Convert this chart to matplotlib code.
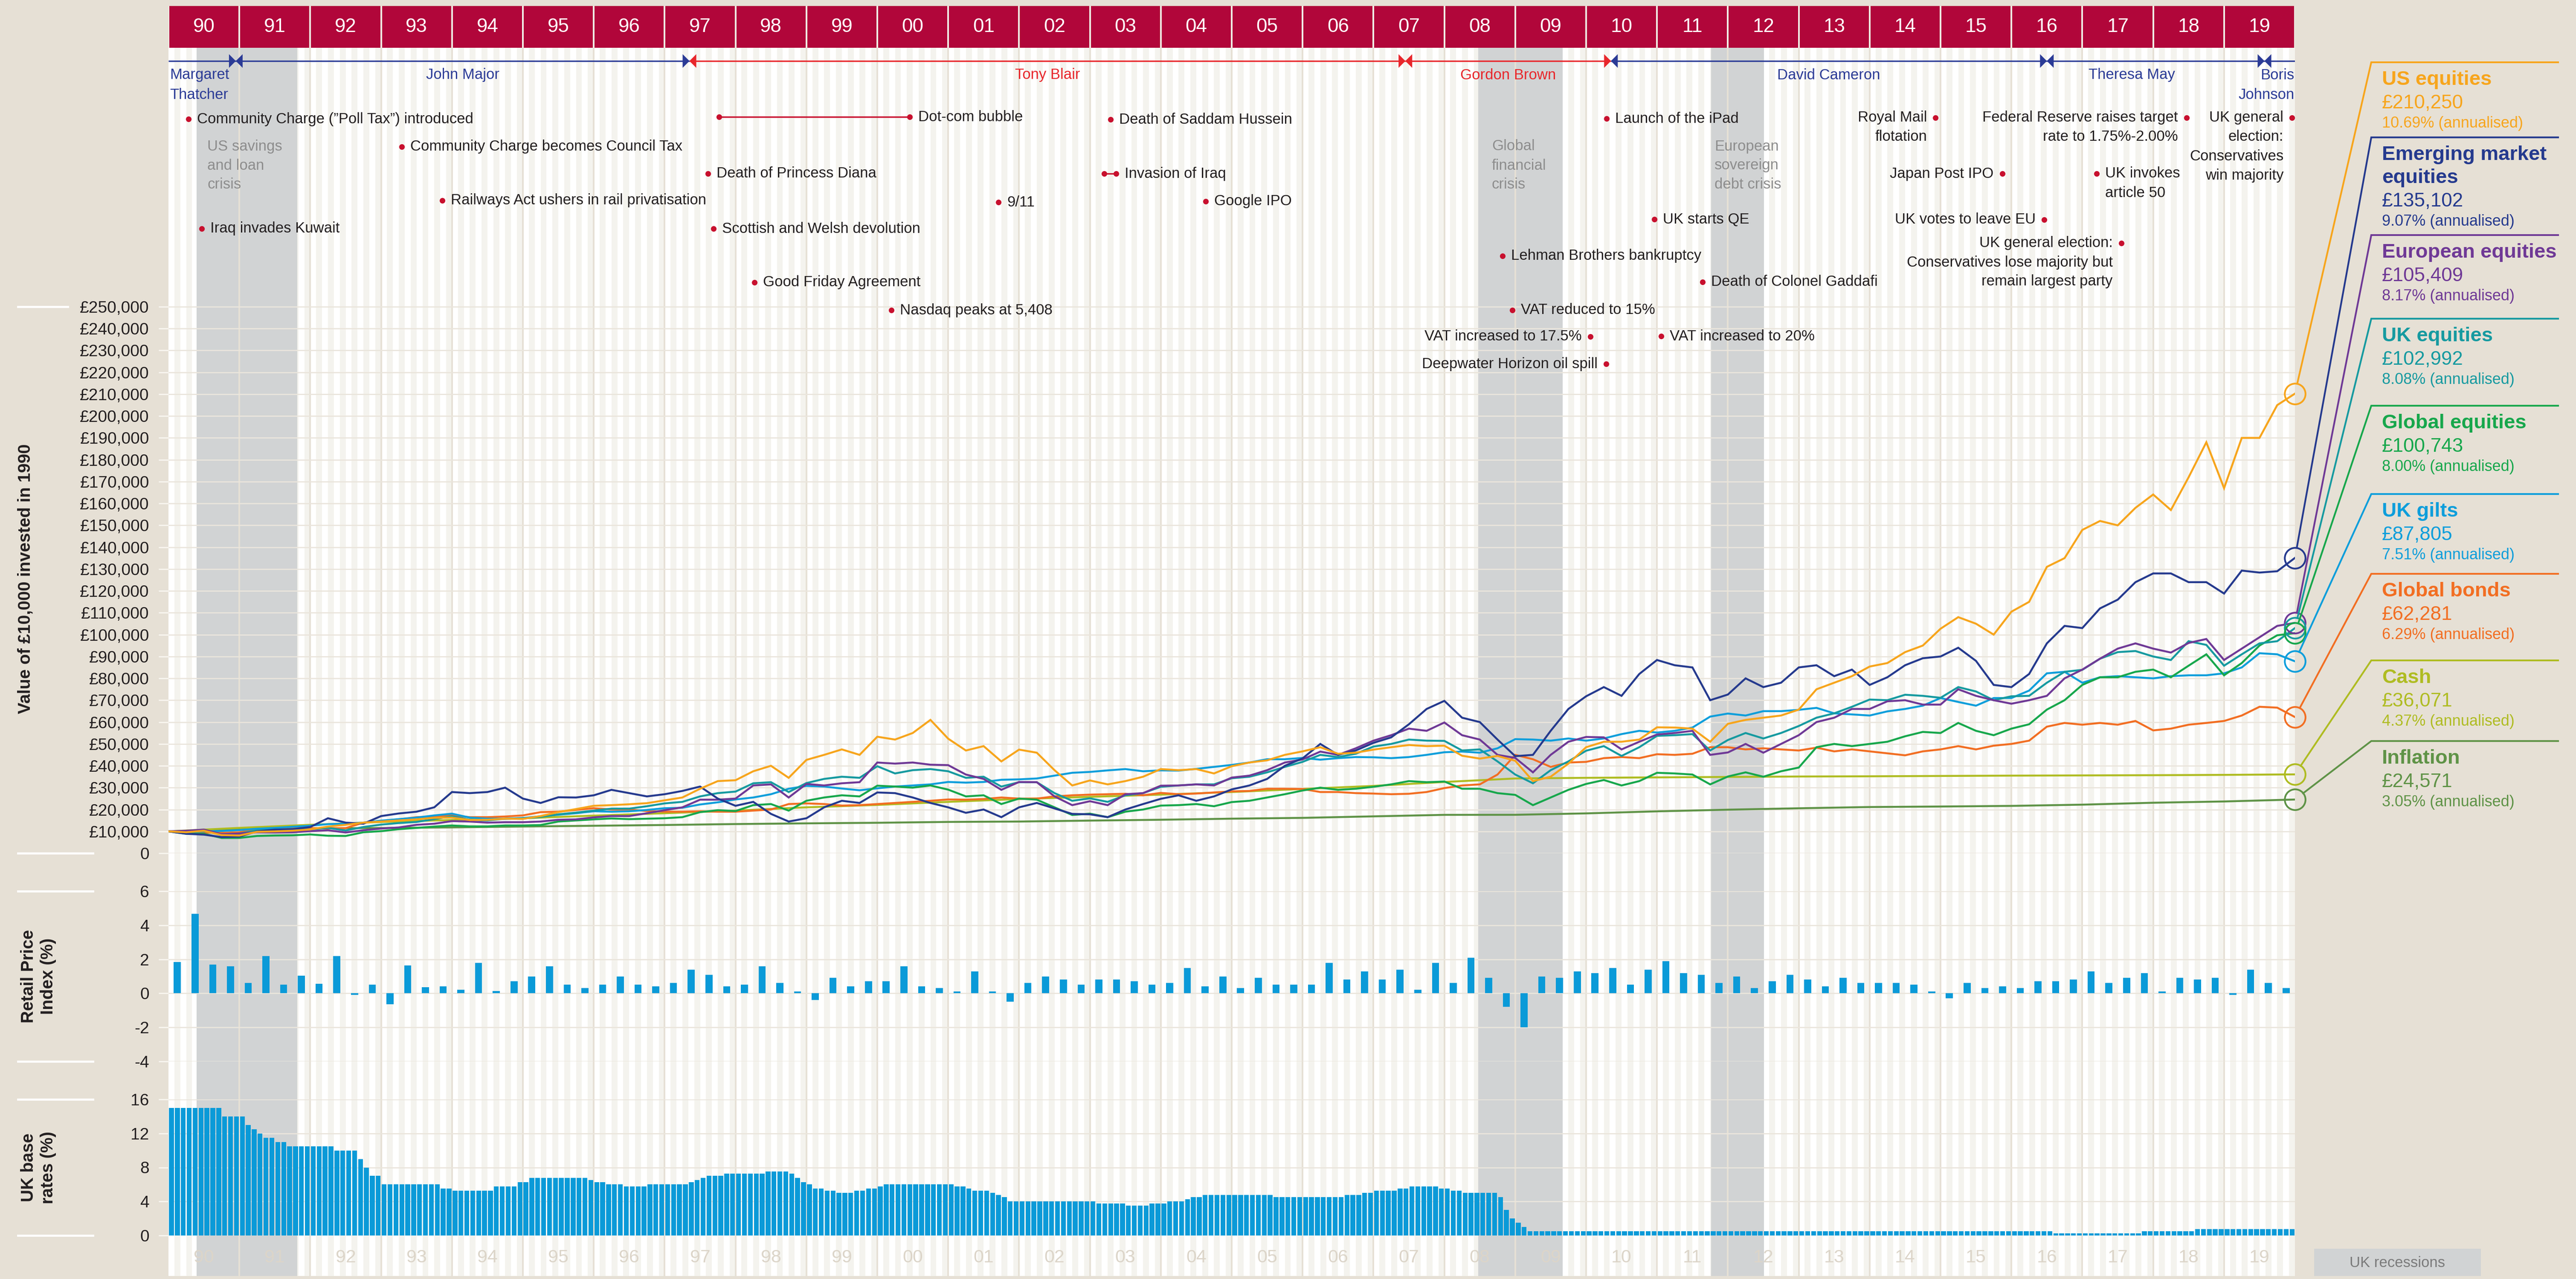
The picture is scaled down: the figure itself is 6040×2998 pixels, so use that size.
import numpy as np
import matplotlib
matplotlib.use("Agg")
import matplotlib.pyplot as plt
from matplotlib.patches import Rectangle, Polygon

plt.rcParams['font.family'] = ['Liberation Sans', 'DejaVu Sans']
plt.rcParams['axes.unicode_minus'] = False

# ---------------- data ----------------
years = list(range(1990, 2020))
year_labels = ["%02d" % (y % 100) for y in years]

quarter_x = 1990 + np.arange(121) * 0.25     # start of each quarter, 1990.0 .. 2020.0
annual_x = 1990 + np.arange(31)
month_x = 1990 + np.arange(360) / 12
rpi_x = 1990.125 + np.arange(120) * 0.25

# value of £10,000 (in £000s), quarterly
us_equities = [
    10.0, 9.6, 10.3, 8.3,  8.1, 9.8, 10.0, 10.3,  10.9, 12.2, 13.0, 14.0,  14.5, 15.0, 15.5, 16.2,
    16.3, 15.2, 15.3, 15.8,  15.7, 17.0, 18.8, 20.2,  21.7, 22.0, 22.4, 22.9,  24.2, 25.5, 29.5, 33.0,
    33.4, 37.5, 40.0, 34.5,  42.7, 45.0, 47.5, 45.0,  53.3, 52.0, 55.0, 61.0,  52.4, 47.0, 49.0, 42.0,
    47.4, 46.0, 38.0, 31.0,  33.3, 31.5, 33.0, 35.0,  38.5, 38.0, 38.5, 36.5,  39.8, 41.5, 42.5, 45.0,
    46.6, 48.5, 45.5, 46.0,  47.4, 48.5, 49.5, 49.0,  49.2, 44.6, 43.3, 44.5,  42.3, 33.0, 35.0, 41.0,
    48.5, 51.0, 51.0, 52.0,  57.6, 57.5, 57.0, 51.0,  59.2, 61.0, 62.0, 63.0,  65.7, 75.0, 78.0, 81.0,
    85.4, 87.0, 92.0, 95.0,  102.7, 108.0, 105.0, 100.0,  110.5, 115.0, 131.0, 135.0,  147.9, 152.0, 150.0, 158.0,
    164.1, 157.0, 172.0, 188.0,  167.0, 190.0, 190.0, 205.0,  210.25]
em_equities = [
    10.0, 8.9, 8.5, 7.4,  7.6, 10.0, 10.8, 11.0,  12.0, 16.0, 14.0, 13.5,  17.0, 18.2, 19.0, 21.0,
    28.0, 27.5, 28.0, 30.0,  25.0, 23.0, 25.6, 25.5,  26.5, 29.0, 27.5, 26.0,  27.0, 28.5, 30.5, 25.0,
    21.7, 23.5, 18.0, 14.5,  16.0, 21.0, 24.0, 23.0,  27.8, 27.5, 25.5, 23.0,  21.0, 18.5, 20.0, 16.5,
    21.0, 23.0, 20.5, 18.0,  17.8, 16.5, 20.0, 22.5,  24.9, 26.5, 24.0, 26.0,  29.2, 31.0, 34.0, 40.0,
    43.4, 50.0, 45.0, 47.0,  50.5, 53.0, 59.0, 66.0,  69.7, 62.0, 60.0, 52.0,  44.4, 45.0, 56.0, 66.0,
    71.8, 76.0, 72.0, 82.0,  88.4, 86.0, 85.0, 70.0,  72.6, 80.0, 76.0, 78.0,  85.0, 86.0, 81.0, 84.0,
    77.0, 80.5, 86.0, 89.2,  90.0, 94.0, 88.0, 77.0,  76.0, 82.0, 96.0, 104.0,  103.0, 112.0, 116.0, 124.0,
    128.0, 128.0, 124.0, 124.0,  118.8, 129.3, 128.4, 129.0,  135.1]
eu_equities = [
    10.0, 10.3, 10.8, 8.7,  9.0, 9.6, 9.5, 9.6,  10.1, 10.5, 9.5, 10.5,  11.3, 11.8, 13.0, 13.5,
    14.7, 14.5, 14.0, 14.2,  14.2, 14.5, 15.3, 15.5,  16.4, 17.0, 17.0, 18.3,  19.7, 21.0, 24.5, 24.5,
    25.0, 31.0, 31.5, 25.5,  31.7, 31.0, 32.0, 32.5,  41.5, 41.0, 41.5, 40.5,  40.3, 36.0, 34.0, 29.0,
    32.6, 32.5, 26.0, 22.0,  23.8, 22.0, 27.0, 27.5,  30.9, 31.0, 31.5, 31.0,  34.6, 35.5, 38.0, 41.5,
    42.9, 46.5, 45.0, 48.0,  51.5, 54.0, 57.0, 56.0,  59.8, 54.0, 52.0, 45.0,  43.6, 37.0, 45.0, 51.0,
    53.2, 53.0, 47.5, 51.0,  54.3, 55.0, 56.0, 45.0,  46.1, 50.0, 46.0, 50.0,  54.0, 60.0, 62.0, 66.0,
    66.0, 69.5, 70.0, 68.0,  68.0, 75.0, 72.0, 70.0,  68.4, 70.0, 72.0, 80.0,  84.0, 89.0, 93.6, 96.0,
    93.6, 91.8, 96.2, 98.0,  88.4, 93.6, 98.8, 104.0,  105.4]
uk_equities = [
    10.0, 9.6, 10.2, 8.6,  9.0, 10.4, 10.8, 11.0,  10.9, 11.6, 10.4, 12.0,  13.1, 13.8, 14.3, 15.6,
    16.9, 15.3, 15.0, 15.8,  15.9, 16.6, 17.8, 18.6,  19.5, 20.4, 20.4, 21.5,  22.8, 23.5, 26.0, 27.5,
    28.2, 32.0, 32.5, 28.0,  32.1, 34.0, 35.0, 34.5,  39.8, 36.5, 38.0, 38.5,  37.5, 34.5, 35.0, 30.5,
    32.5, 32.5, 27.5, 24.0,  25.1, 23.5, 26.5, 27.5,  30.4, 31.0, 31.5, 31.5,  34.3, 35.0, 37.0, 39.5,
    41.8, 45.0, 44.0, 45.5,  48.8, 50.0, 52.0, 51.5,  51.4, 47.0, 47.5, 42.0,  36.0, 32.0, 38.0, 42.0,
    46.9, 49.0, 44.5, 48.5,  53.7, 54.0, 54.5, 47.0,  51.8, 55.0, 52.5, 55.0,  58.2, 62.0, 64.0, 67.0,
    70.3, 70.0, 72.5, 72.0,  71.1, 76.0, 74.0, 70.0,  71.8, 72.0, 78.0, 83.0,  83.9, 89.0, 92.0, 92.5,
    90.0, 88.4, 97.0, 95.3,  85.8, 91.0, 96.0, 97.0,  103.0]
global_equities = [
    10.0, 8.9, 8.9, 7.0,  7.0, 7.9, 8.1, 8.2,  8.6, 8.0, 7.9, 9.6,  10.1, 11.0, 11.6, 12.2,
    12.7, 12.3, 12.3, 12.7,  12.7, 12.9, 14.5, 15.0,  15.5, 15.9, 15.6, 15.8,  16.0, 16.5, 18.8, 19.7,
    19.3, 22.0, 22.5, 19.5,  24.0, 25.5, 26.5, 26.0,  30.9, 30.5, 30.0, 31.0,  29.1, 26.0, 26.5, 22.5,
    25.0, 24.5, 21.0, 17.5,  18.1, 16.5, 19.0, 20.0,  21.8, 22.0, 22.5, 21.5,  23.4, 24.0, 25.5, 27.0,
    28.7, 30.0, 29.0, 29.5,  30.4, 31.5, 33.0, 32.5,  32.8, 29.5, 29.5, 27.5,  26.7, 22.0, 25.5, 29.0,
    31.7, 33.5, 31.0, 33.0,  36.8, 36.5, 36.0, 31.5,  35.1, 37.0, 35.0, 37.5,  39.2, 48.5, 50.0, 49.0,
    50.0, 51.0, 53.5, 55.5,  55.0, 59.6, 56.0, 54.0,  57.0, 59.0, 65.7, 70.0,  77.0, 80.5, 80.5, 83.0,
    84.0, 80.5, 85.8, 91.0,  81.4, 87.0, 95.0, 99.7,  100.7]
uk_gilts = [
    10.0, 9.6, 10.0, 10.2,  10.6, 11.2, 11.6, 12.1,  12.6, 13.3, 13.5, 14.0,  14.9, 15.6, 16.3, 17.3,
    18.1, 16.3, 15.8, 15.8,  16.1, 16.9, 17.6, 18.3,  19.2, 19.0, 19.2, 19.8,  20.6, 20.8, 22.3, 23.3,
    24.6, 25.5, 27.0, 29.5,  30.8, 30.5, 29.6, 28.8,  29.7, 30.5, 31.0, 31.5,  32.6, 32.3, 32.6, 33.6,
    33.8, 34.2, 35.5, 36.8,  37.2, 37.9, 38.5, 37.5,  37.9, 37.8, 38.6, 39.5,  40.4, 41.5, 43.0, 43.0,
    43.6, 42.8, 43.5, 44.0,  43.9, 43.5, 44.0, 45.0,  46.2, 46.5, 46.0, 48.0,  52.2, 52.0, 51.5, 52.5,
    51.5, 52.5, 54.5, 56.0,  55.2, 56.0, 57.5, 62.5,  63.9, 63.0, 65.0, 65.0,  65.6, 66.5, 64.0, 63.5,
    63.0, 64.9, 66.0, 67.5,  71.0, 69.2, 67.5, 71.0,  71.0, 74.4, 82.3, 83.0,  78.0, 80.5, 81.0, 80.5,
    80.0, 81.0, 81.4, 81.4,  82.3, 85.0, 91.5, 91.0,  87.8]
global_bonds = [
    10.0, 9.7, 9.5, 9.3,  9.6, 10.8, 11.0, 11.4,  11.5, 11.4, 11.5, 14.0,  14.8, 15.5, 16.5, 16.8,
    17.3, 16.5, 16.5, 16.8,  17.3, 18.8, 19.0, 19.8,  20.6, 20.0, 20.0, 19.3,  19.0, 19.0, 19.2, 19.0,
    19.0, 19.5, 20.0, 22.5,  22.8, 22.5, 21.8, 22.0,  22.5, 23.0, 23.5, 24.0,  24.6, 24.5, 24.8, 25.5,
    25.0, 25.0, 26.0, 26.5,  26.8, 27.0, 27.2, 26.5,  27.6, 27.0, 27.3, 27.8,  28.3, 28.5, 29.5, 29.5,
    29.4, 28.0, 28.0, 27.5,  27.3, 27.0, 27.2, 28.0,  29.8, 31.0, 31.5, 36.0,  45.0, 43.0, 39.5, 41.5,
    41.8, 43.5, 44.0, 43.5,  45.3, 45.0, 45.5, 48.5,  48.5, 47.5, 48.0, 47.5,  47.0, 48.3, 46.6, 47.5,
    46.6, 45.7, 44.8, 46.6,  47.5, 49.0, 47.5, 49.2,  50.0, 51.5, 57.9, 59.6,  58.8, 59.6, 58.8, 60.5,
    56.2, 57.0, 58.8, 59.6,  60.5, 63.0, 67.0, 66.6,  62.3]
# yearly (1 Jan of each year, last = end 2019)
cash = [10.0, 11.6, 13.0, 14.3, 15.2, 16.0, 17.2, 18.3, 19.5, 21.0, 22.1, 23.5, 24.8, 25.8, 26.8, 28.0,
        29.4, 30.8, 32.6, 34.2, 34.5, 34.7, 34.9, 35.1, 35.2, 35.35, 35.5, 35.6, 35.7, 35.85, 36.07]
inflation = [10.0, 10.9, 11.35, 11.54, 11.82, 12.22, 12.57, 12.92, 13.35, 13.67, 13.94, 14.32, 14.50, 14.93,
             15.32, 15.81, 16.18, 16.87, 17.56, 17.58, 18.23, 19.16, 19.92, 20.57, 21.14, 21.37, 21.66,
             22.22, 23.10, 23.68, 24.57]

# Retail Price Index, quarterly change (%)
rpi_change = [
    1.83, 4.68, 1.70, 1.60,  0.60, 2.18, 0.50, 1.03,  0.57, 2.18, -0.08, 0.50,  -0.65, 1.63, 0.35, 0.40,
    0.20, 1.80, 0.13, 0.70,  1.0, 1.6, 0.5, 0.3,  0.5, 1.0, 0.5, 0.4,  0.6, 1.4, 1.1, 0.4,
    0.5, 1.6, 0.6, 0.1,  -0.4, 0.9, 0.4, 0.7,  0.7, 1.6, 0.4, 0.3,  0.1, 1.3, 0.1, -0.5,
    0.6, 1.0, 0.8, 0.5,  0.8, 0.8, 0.7, 0.5,  0.6, 1.5, 0.4, 1.0,  0.3, 0.9, 0.5, 0.5,
    0.5, 1.8, 0.8, 1.3,  0.8, 1.4, 0.2, 1.8,  0.6, 2.1, 0.9, -0.8,  -2.0, 1.0, 0.9, 1.3,
    1.2, 1.5, 0.5, 1.4,  1.9, 1.2, 1.1, 0.6,  1.0, 0.3, 0.7, 1.1,  0.8, 0.4, 0.9, 0.6,
    0.6, 0.6, 0.5, 0.1,  -0.3, 0.6, 0.3, 0.4,  0.3, 0.7, 0.7, 0.8,  1.3, 0.6, 0.9, 1.2,
    0.1, 0.9, 0.8, 0.9,  -0.1, 1.4, 0.6, 0.3]

# UK base rate (%), monthly
base_rate = [
    15, 15, 15, 15, 15, 15, 15, 15, 15, 14, 14, 14,
    14, 13, 12.5, 12, 11.5, 11.5, 11, 11, 10.5, 10.5, 10.5, 10.5,
    10.5, 10.5, 10.5, 10.5, 10, 10, 10, 10, 9, 8, 7, 7,
    6, 6, 6, 6, 6, 6, 6, 6, 6, 6, 5.5, 5.5,
    5.25, 5.25, 5.25, 5.25, 5.25, 5.25, 5.25, 5.75, 5.75, 5.75, 5.75, 6.25,
    6.25, 6.75, 6.75, 6.75, 6.75, 6.75, 6.75, 6.75, 6.75, 6.75, 6.75, 6.5,
    6.25, 6.25, 6, 6, 6, 5.75, 5.75, 5.75, 5.75, 6, 6, 6,
    6, 6, 6, 6, 6.25, 6.5, 6.75, 7, 7, 7, 7.25, 7.25,
    7.25, 7.25, 7.25, 7.25, 7.25, 7.5, 7.5, 7.5, 7.5, 7.25, 6.75, 6.25,
    6, 5.5, 5.5, 5.25, 5.25, 5, 5, 5, 5.25, 5.25, 5.5, 5.5,
    5.75, 6, 6, 6, 6, 6, 6, 6, 6, 6, 6, 6,
    6, 5.75, 5.75, 5.5, 5.25, 5.25, 5.25, 5, 4.75, 4.5, 4, 4,
    4, 4, 4, 4, 4, 4, 4, 4, 4, 4, 4, 4,
    4, 3.75, 3.75, 3.75, 3.75, 3.75, 3.5, 3.5, 3.5, 3.5, 3.75, 3.75,
    3.75, 4, 4, 4, 4.25, 4.5, 4.5, 4.75, 4.75, 4.75, 4.75, 4.75,
    4.75, 4.75, 4.75, 4.75, 4.75, 4.75, 4.75, 4.5, 4.5, 4.5, 4.5, 4.5,
    4.5, 4.5, 4.5, 4.5, 4.5, 4.5, 4.5, 4.75, 4.75, 4.75, 5, 5,
    5.25, 5.25, 5.25, 5.25, 5.5, 5.5, 5.75, 5.75, 5.75, 5.75, 5.75, 5.5,
    5.5, 5.25, 5.25, 5, 5, 5, 5, 5, 5, 4.5, 3, 2,
    1.5, 1, 0.5, 0.5, 0.5, 0.5, 0.5, 0.5, 0.5, 0.5, 0.5, 0.5,
    0.5, 0.5, 0.5, 0.5, 0.5, 0.5, 0.5, 0.5, 0.5, 0.5, 0.5, 0.5,
    0.5, 0.5, 0.5, 0.5, 0.5, 0.5, 0.5, 0.5, 0.5, 0.5, 0.5, 0.5,
    0.5, 0.5, 0.5, 0.5, 0.5, 0.5, 0.5, 0.5, 0.5, 0.5, 0.5, 0.5,
    0.5, 0.5, 0.5, 0.5, 0.5, 0.5, 0.5, 0.5, 0.5, 0.5, 0.5, 0.5,
    0.5, 0.5, 0.5, 0.5, 0.5, 0.5, 0.5, 0.5, 0.5, 0.5, 0.5, 0.5,
    0.5, 0.5, 0.5, 0.5, 0.5, 0.5, 0.5, 0.5, 0.5, 0.5, 0.5, 0.5,
    0.5, 0.5, 0.5, 0.5, 0.5, 0.5, 0.5, 0.25, 0.25, 0.25, 0.25, 0.25,
    0.25, 0.25, 0.25, 0.25, 0.25, 0.25, 0.25, 0.25, 0.25, 0.25, 0.5, 0.5,
    0.5, 0.5, 0.5, 0.5, 0.5, 0.5, 0.5, 0.75, 0.75, 0.75, 0.75, 0.75,
    0.75, 0.75, 0.75, 0.75, 0.75, 0.75, 0.75, 0.75, 0.75, 0.75, 0.75, 0.75]

recessions = [(1990.40, 1991.82), (2008.48, 2009.67), (2011.76, 2012.51)]
recession_labels = [(1990.55, "US savings\nand loan\ncrisis"), (2008.67, "Global\nfinancial\ncrisis"),
                    (2011.81, "European\nsovereign\ndebt crisis")]

# prime ministers: name, start, end, party
pms = [("Margaret\nThatcher", 1990.0, 1990.95, "C"), ("John Major", 1990.95, 1997.35, "C"),
       ("Tony Blair", 1997.35, 2007.45, "L"), ("Gordon Brown", 2007.45, 2010.35, "L"),
       ("David Cameron", 2010.35, 2016.5, "C"), ("Theresa May", 2016.5, 2019.57, "C"),
       ("Boris\nJohnson", 2019.57, 2020.0, "C")]

# events: date, text, row
events_right = [
    (1990.28, 'Community Charge (\u201dPoll Tax\u201d) introduced', 279),
    (1990.47, 'Iraq invades Kuwait', 536),
    (1993.29, 'Community Charge becomes Council Tax', 344),
    (1993.86, 'Railways Act ushers in rail privatisation', 470),
    (1997.61, 'Death of Princess Diana', 407),
    (1997.69, 'Scottish and Welsh devolution', 536),
    (1998.27, 'Good Friday Agreement', 662),
    (2000.20, 'Nasdaq peaks at 5,408', 727),
    (2001.71, '9/11', 474),
    (2003.29, 'Death of Saddam Hussein', 280),
    (2004.63, 'Google IPO', 472),
    (2008.82, 'Lehman Brothers bankruptcy', 600),
    (2008.96, 'VAT reduced to 15%', 727),
    (2010.29, 'Launch of the iPad', 278),
    (2010.96, 'UK starts QE', 514),
    (2011.06, 'VAT increased to 20%', 788),
    (2011.64, 'Death of Colonel Gaddafi', 661),
    (2017.20, 'UK invokes\narticle 50', 407),
]
events_left = [
    (2010.06, 'VAT increased to 17.5%', 789),
    (2010.28, 'Deepwater Horizon oil spill', 853),
    (2014.93, 'Royal Mail\nflotation', 276),
    (2015.87, 'Japan Post IPO', 407),
    (2016.46, 'UK votes to leave EU', 515),
    (2017.55, 'UK general election:\nConservatives lose majority but\nremain largest party', 570),
    (2018.47, 'Federal Reserve raises target\nrate to 1.75%-2.00%', 276),
    (2019.96, 'UK general\nelection:\nConservatives\nwin majority', 276),
]
dotcom = (1997.77, 2000.46, 274)
iraq = (2003.20, 2003.37, 407)

series = [
    ("US equities", us_equities, quarter_x, "#F7A51C", "\u00a3210,250", "10.69% (annualised)"),
    ("Emerging market\nequities", em_equities, quarter_x, "#253A8E", "\u00a3135,102", "9.07% (annualised)"),
    ("European equities", eu_equities, quarter_x, "#6F3996", "\u00a3105,409", "8.17% (annualised)"),
    ("UK equities", uk_equities, quarter_x, "#169AA0", "\u00a3102,992", "8.08% (annualised)"),
    ("Global equities", global_equities, quarter_x, "#17A74C", "\u00a3100,743", "8.00% (annualised)"),
    ("UK gilts", uk_gilts, quarter_x, "#0E9EDB", "\u00a387,805", "7.51% (annualised)"),
    ("Global bonds", global_bonds, quarter_x, "#F26E22", "\u00a362,281", "6.29% (annualised)"),
    ("Cash", cash, annual_x, "#AFBC22", "\u00a336,071", "4.37% (annualised)"),
    ("Inflation", inflation, annual_x, "#5F9347", "\u00a324,571", "3.05% (annualised)"),
]

# ---------------- layout (pixels) ----------------
W, H, DPI = 6040, 2998, 100
X0, X1 = 395, 5381
HEAD_TOP, HEAD_BOT = 14, 112
MAIN_BOT = 2000
PX_PER_K = 1281 / 250.0
RPI_TOP, RPI_BOT = 2089, 2488
BASE_TOP, BASE_BOT = 2577, 2896
PLOT_BOT = 2991

BEIGE = "#E6E0D5"
PANEL = "#F4F3EE"
GRID = "#EAE5DC"
RED = "#B1063A"
DOT = "#C8102E"
INK = "#231F20"
BAR = "#0A9AD8"
CON, LAB = "#2B3B96", "#E8262B"
REC = "#D1D3D4"


def rect(top, bottom, left=X0, right=X1):
    return [left / W, 1 - bottom / H, (right - left) / W, (bottom - top) / H]


def clean(ax):
    ax.set_xticks([])
    for s in ax.spines.values():
        s.set_visible(False)


fig = plt.figure(figsize=(W / DPI, H / DPI), dpi=DPI, facecolor=BEIGE)

# background: month stripes, recessions, year lines, bottom labels
ax_bg = fig.add_axes(rect(HEAD_BOT, PLOT_BOT), facecolor=PANEL)
ax_bg.set_xlim(1990, 2020)
ax_bg.set_ylim(PLOT_BOT, HEAD_BOT)
clean(ax_bg)
ax_bg.set_yticks([])
ax_bg.bar(month_x[0::2], PLOT_BOT - HEAD_BOT, bottom=HEAD_BOT, width=1 / 12, align='edge',
          color='white', lw=0)
for a, b in recessions:
    ax_bg.axvspan(a, b, color=REC, lw=0)
ax_bg.vlines(years[1:], HEAD_BOT, PLOT_BOT, color=BEIGE, lw=2.8)
for y, lab in zip(years, year_labels):
    ax_bg.text(y + 0.5, 2948, lab, ha='center', va='center', fontsize=31, color="#DCD5C9", zorder=5)
for x, lab in recession_labels:
    for i, line in enumerate(lab.split("\n")):
        ax_bg.text(x, 343 + i * 45, line, ha='left', va='center', fontsize=25, color="#8D8D8D")

# header with years
ax_h = fig.add_axes(rect(HEAD_TOP, HEAD_BOT), facecolor="#EFEBE4")
ax_h.set_xlim(1990, 2020)
ax_h.set_ylim(0, 1)
clean(ax_h)
ax_h.set_yticks([])
gap = 4 / 166.2
for y, lab in zip(years, year_labels):
    ax_h.add_patch(Rectangle((y + gap / 2, 0), 1 - gap, 1, color=RED, lw=0))
    ax_h.text(y + 0.5, 0.5, lab, ha='center', va='center', fontsize=33, color='white')

tick_kw = dict(length=16.5, width=2.2, color="#F8F5EF", pad=16, labelsize=28, labelcolor=INK)

# main line chart
ymax = (MAIN_BOT - HEAD_BOT) / PX_PER_K * 1000
ax = fig.add_axes(rect(HEAD_BOT, MAIN_BOT), facecolor='none')
ax.set_xlim(1990, 2020)
ax.set_ylim(0, ymax)
clean(ax)
yt = np.arange(0, 260000, 10000)
ax.set_yticks(yt)
ax.set_yticklabels(['0'] + ['\u00a3{:,}'.format(v) for v in yt[1:]])
ax.tick_params(axis='y', **tick_kw)
ax.yaxis.grid(True, color=GRID, lw=2)
for name, vals, xs, col, _, _ in reversed(series):
    ax.plot(xs, np.array(vals) * 1000, color=col, lw=3.3, solid_joinstyle='miter', zorder=3)
for name, vals, xs, col, _, _ in series:
    ax.plot(xs[-1], vals[-1] * 1000, 'o', ms=35, mfc='none', mec=col, mew=3, clip_on=False, zorder=4)

# RPI panel
ax_r = fig.add_axes(rect(RPI_TOP, RPI_BOT), facecolor='none')
ax_r.set_xlim(1990, 2020)
ax_r.set_ylim(-4, 6)
clean(ax_r)
ax_r.set_yticks([-4, -2, 0, 2, 4, 6])
ax_r.tick_params(axis='y', **tick_kw)
ax_r.yaxis.grid(True, color=GRID, lw=2)
ax_r.set_axisbelow(True)
ax_r.bar(rpi_x, rpi_change, width=0.1, color=BAR, lw=0, zorder=3)

# base rate panel
ax_b = fig.add_axes(rect(BASE_TOP, BASE_BOT), facecolor='none')
ax_b.set_xlim(1990, 2020)
ax_b.set_ylim(0, 16)
clean(ax_b)
ax_b.set_yticks([0, 4, 8, 12, 16])
ax_b.tick_params(axis='y', **tick_kw)
ax_b.yaxis.grid(True, color=GRID, lw=2)
ax_b.bar(month_x + 0.1 / 12, base_rate, width=0.82 / 12, align='edge', color=BAR, lw=0, zorder=3)

# annotations (x in years, y in pixels)
ax_a = fig.add_axes(rect(HEAD_BOT, MAIN_BOT), facecolor='none')
ax_a.set_xlim(1990, 2020)
ax_a.set_ylim(MAIN_BOT, HEAD_BOT)
ax_a.axis('off')

PM_Y = 143
tri_w = 16 / 166.2
for i, (name, a, b, party) in enumerate(pms):
    col = CON if party == "C" else LAB
    ax_a.plot([a, b], [PM_Y, PM_Y], color=col, lw=2.4, solid_capstyle='butt')
    if i > 0:
        ax_a.add_patch(Polygon([(a - tri_w, PM_Y - 16), (a - tri_w, PM_Y + 16), (a, PM_Y)],
                               closed=True, color=CON if pms[i - 1][3] == "C" else LAB, lw=0))
        ax_a.add_patch(Polygon([(a + tri_w, PM_Y - 16), (a + tri_w, PM_Y + 16), (a, PM_Y)],
                               closed=True, color=col, lw=0))
    if i == 0:
        x, ha = a + 0.02, 'left'
    elif i == len(pms) - 1:
        x, ha = 2019.99, 'right'
    else:
        x, ha = (a + b) / 2, 'center'
        if name == "Theresa May":
            x = 2017.7
    for j, line in enumerate(name.split("\n")):
        ax_a.text(x, 176 + j * 46, line, ha=ha, va='center', fontsize=25, color=col)

dx = 20 / 166.2
for x, text, y in events_right:
    ax_a.plot(x, y, 'o', ms=9.5, color=DOT, mew=0)
    for j, line in enumerate(text.split("\n")):
        ax_a.text(x + dx, y + j * 45, line, ha='left', va='center', fontsize=25, color=INK)
for x, text, y in events_left:
    ax_a.plot(x, y, 'o', ms=9.5, color=DOT, mew=0)
    for j, line in enumerate(text.split("\n")):
        ax_a.text(x - dx, y + j * 45, line, ha='right', va='center', fontsize=25, color=INK)
ax_a.plot(dotcom[:2], [dotcom[2]] * 2, '-o', color=DOT, lw=2.5, ms=9.5, mew=0)
ax_a.text(dotcom[1] + dx, dotcom[2], 'Dot-com bubble', ha='left', va='center', fontsize=25, color=INK)
ax_a.plot(iraq[:2], [iraq[2]] * 2, '-o', color=DOT, lw=2.5, ms=9.5, mew=0)
ax_a.text(iraq[1] + dx, iraq[2], 'Invasion of Iraq', ha='left', va='center', fontsize=25, color=INK)

# full-figure overlay in pixels: axis titles, separators, legend
ax_p = fig.add_axes([0, 0, 1, 1], facecolor='none')
ax_p.set_xlim(0, W)
ax_p.set_ylim(H, 0)
ax_p.axis('off')

ax_p.plot([42, 159], [719, 719], color='white', lw=3.5)
for yy in [MAIN_BOT, RPI_TOP, RPI_BOT, BASE_TOP, BASE_BOT]:
    ax_p.plot([42, 218], [yy, yy], color='white', lw=3.5)
ax_p.text(60, 1357, "Value of \u00a310,000 invested in 1990", rotation=90, ha='center', va='center',
          fontsize=29, fontweight='bold', color=INK)
ax_p.text(90, (RPI_TOP + RPI_BOT) / 2, "Retail Price\nIndex (%)", rotation=90, ha='center', va='center',
          fontsize=29, fontweight='bold', color=INK, linespacing=1.3, multialignment='center')
ax_p.text(90, (BASE_TOP + BASE_BOT) / 2, "UK base\nrates (%)", rotation=90, ha='center', va='center',
          fontsize=29, fontweight='bold', color=INK, linespacing=1.3, multialignment='center')

ax_p.add_patch(Rectangle((5426, 2927), 391, 64, color=REC, lw=0))
ax_p.text(5621, 2960, "UK recessions", ha='center', va='center', fontsize=25, color="#7B7B7B")

legend_line_y = [146, 322, 551, 747, 951, 1158, 1345, 1548, 1737]
LX0, LX1, TX = 5560, 5998, 5585
R_CIRC = 24
for (name, vals, xs, col, val_txt, pct_txt), ly in zip(series, legend_line_y):
    cx, cy = ax.transData.transform((xs[-1], vals[-1] * 1000))
    cy = H - cy
    vx, vy = LX0 - cx, ly - cy
    n = np.hypot(vx, vy)
    sx, sy = cx + vx / n * R_CIRC, cy + vy / n * R_CIRC
    ax_p.plot([sx, LX0, LX1], [sy, ly, ly], color=col, lw=3, solid_joinstyle='miter')
    ty = ly + 41
    for j, line in enumerate(name.split("\n")):
        ax_p.text(TX, ty + j * 54, line, ha='left', va='center', fontsize=34, fontweight='bold', color=col)
    ty = ty + (len(name.split("\n")) - 1) * 54 + 55
    ax_p.text(TX, ty, val_txt, ha='left', va='center', fontsize=33, color=col)
    ax_p.text(TX, ty + 47, pct_txt, ha='left', va='center', fontsize=26, color=col)

fig.savefig("out.png", dpi=DPI, facecolor=BEIGE)
